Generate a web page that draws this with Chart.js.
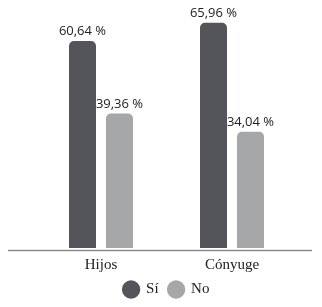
<!DOCTYPE html>
<html>
<head>
<meta charset="utf-8">
<script src="https://cdn.jsdelivr.net/npm/chart.js@4/dist/chart.umd.min.js"></script>
<style>
  html, body { margin: 0; padding: 0; background: #fff; }
  #wrap { width: 322px; height: 307px; }
</style>
</head>
<body>
<div id="wrap"><canvas id="myChart"></canvas></div>
<script>
const categories = ['Hijos', 'Cónyuge'];
const seriesNames = ['Sí', 'No'];
const siValues = [60.64, 65.96];
const noValues = [39.36, 34.04];
const seriesColors = ['#54555b', '#a6a7a9'];

// numeros con coma decimal, como en el original
const fmt = v => v.toFixed(2).replace('.', ',') + ' %';

const valueLabels = {
  id: 'valueLabels',
  afterDatasetsDraw(chart) {
    const ctx = chart.ctx;
    ctx.save();
    ctx.font = '13px "Open Sans"';
    ctx.fillStyle = '#222';
    ctx.textAlign = 'center';
    ctx.textBaseline = 'bottom';
    chart.data.datasets.forEach((ds, i) => {
      chart.getDatasetMeta(i).data.forEach((bar, j) => {
        ctx.fillText(fmt(ds.data[j]), bar.x, bar.y - 3);
      });
    });
    ctx.restore();
  }
};

// linea base, mas larga que el area de barras
const baseLine = {
  id: 'baseLine',
  afterDraw(chart) {
    const ctx = chart.ctx;
    const y = chart.chartArea.bottom + 2.5;
    ctx.save();
    ctx.strokeStyle = '#8c8c8c';
    ctx.lineWidth = 1.5;
    ctx.beginPath();
    ctx.moveTo(8, y);
    ctx.lineTo(312, y);
    ctx.stroke();
    ctx.restore();
  }
};

new Chart(document.getElementById('myChart'), {
  type: 'bar',
  data: {
    labels: categories,
    datasets: [
      { label: seriesNames[0], data: siValues, backgroundColor: seriesColors[0] },
      { label: seriesNames[1], data: noValues, backgroundColor: seriesColors[1] }
    ]
  },
  options: {
    responsive: true,
    maintainAspectRatio: false,
    animation: false,
    layout: { padding: { left: 35.5, right: 24.5, top: 9, bottom: 0 } },
    datasets: {
      bar: {
        categoryPercentage: 0.565,
        barPercentage: 0.73,
        borderRadius: 5,
        borderSkipped: 'start'
      }
    },
    scales: {
      x: {
        grid: { display: false, drawTicks: false },
        border: { display: false },
        ticks: {
          color: '#222',
          padding: 8,
          font: { family: '"Liberation Serif"', size: 15 }
        },
        afterFit(scale) { scale.height = 24; }
      },
      y: { display: false, min: 0, max: 70 }
    },
    plugins: {
      tooltip: { enabled: false },
      legend: {
        position: 'bottom',
        labels: {
          usePointStyle: true,
          pointStyle: 'circle',
          boxHeight: 13,
          color: '#222',
          padding: 10,
          font: { family: '"Liberation Serif"', size: 15 }
        }
      }
    }
  },
  plugins: [valueLabels, baseLine]
});
</script>
</body>
</html>
